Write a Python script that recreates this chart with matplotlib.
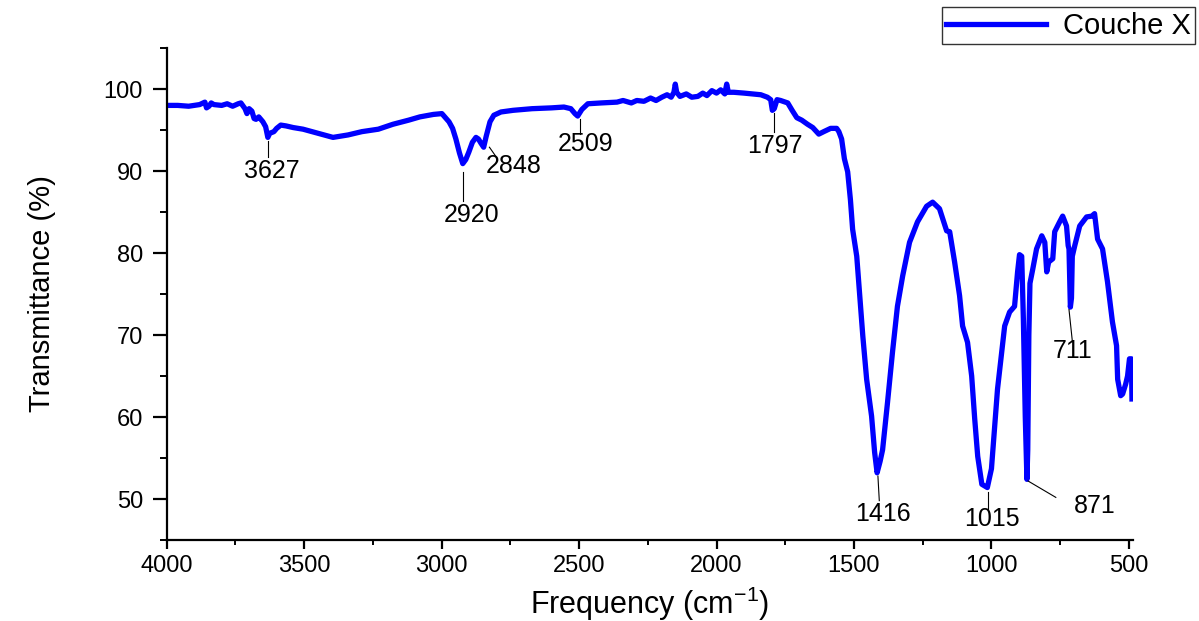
import matplotlib
matplotlib.use("Agg")
from matplotlib import pyplot as plt
from matplotlib.ticker import MultipleLocator

plt.rcParams['font.family'] = ['Liberation Sans', 'DejaVu Sans']
plt.rcParams['mathtext.fontset'] = 'custom'
plt.rcParams['mathtext.rm'] = 'Liberation Sans'
plt.rcParams['mathtext.default'] = 'regular'

# FTIR spectrum, wavenumber (cm-1) and transmittance (%)
wavenumber = [4000, 3960, 3920, 3880, 3861, 3855, 3846, 3838, 3828, 3800, 3780, 3760,
              3740, 3730, 3715, 3708, 3700, 3690, 3682, 3675, 3665, 3650, 3640, 3632,
              3625, 3610, 3600, 3585, 3566, 3540, 3504, 3450, 3395, 3340, 3290, 3230,
              3177, 3120, 3079, 3030, 2999, 2973, 2960, 2948, 2935, 2923, 2912, 2901,
              2888, 2875, 2866, 2857, 2847, 2838, 2824, 2810, 2784, 2740, 2671, 2600,
              2555, 2530, 2515, 2505, 2490, 2468, 2420, 2362, 2340, 2310, 2290, 2264,
              2240, 2220, 2199, 2180, 2165, 2155, 2150, 2145, 2133, 2110, 2090, 2068,
              2050, 2035, 2017, 2000, 1985, 1970, 1963, 1957, 1937, 1900, 1870, 1839,
              1815, 1803, 1797, 1790, 1780, 1767, 1741, 1725, 1708, 1690, 1669, 1650,
              1628, 1610, 1585, 1563, 1555, 1545, 1535, 1523, 1513, 1505, 1490, 1479,
              1468, 1454, 1436, 1425, 1416, 1405, 1396, 1378, 1360, 1342, 1323, 1298,
              1269, 1236, 1214, 1189, 1163, 1152, 1134, 1116, 1105, 1087, 1072, 1061,
              1050, 1035, 1015, 1000, 989, 978, 963, 952, 934, 916, 905, 898,
              890, 884, 877, 871, 868, 864, 860, 850, 836, 817, 806, 799,
              792, 777, 770, 752, 741, 735, 727, 721, 718, 713, 709, 706,
              697, 679, 654, 635, 625, 614, 596, 578, 560, 545, 541, 530,
              523, 512, 505, 498, 491, 489]
transmittance = [98.0, 98.0, 97.9, 98.1, 98.4, 97.7, 97.9, 98.3, 98.1, 98.0, 98.2, 97.9,
                 98.2, 98.3, 97.6, 97.0, 97.6, 97.3, 96.4, 96.3, 96.6, 96.0, 95.4, 94.1,
                 94.6, 94.8, 95.2, 95.6, 95.5, 95.3, 95.1, 94.6, 94.1, 94.4, 94.8, 95.1,
                 95.7, 96.2, 96.6, 96.9, 97.0, 96.0, 95.2, 93.9, 92.2, 90.9, 91.4, 92.3,
                 93.5, 94.1, 93.9, 93.4, 92.9, 94.2, 96.0, 96.8, 97.2, 97.4, 97.6, 97.7,
                 97.8, 97.6, 97.0, 96.7, 97.5, 98.2, 98.3, 98.4, 98.6, 98.3, 98.6, 98.5,
                 98.9, 98.6, 99.0, 99.3, 99.0, 99.6, 100.6, 99.6, 99.1, 99.4, 99.0, 99.1,
                 99.5, 99.2, 99.8, 99.5, 99.9, 99.4, 100.6, 99.6, 99.6, 99.5, 99.4, 99.3,
                 99.0, 98.7, 97.4, 97.6, 98.7, 98.6, 98.3, 97.4, 96.5, 96.2, 95.7, 95.3,
                 94.5, 94.8, 95.2, 95.2, 94.8, 93.9, 91.5, 89.9, 86.5, 82.9, 79.6, 74.8,
                 69.9, 64.6, 60.1, 55.7, 53.2, 54.6, 56.0, 61.8, 67.9, 73.5, 77.2, 81.3,
                 83.8, 85.7, 86.2, 85.4, 82.7, 82.6, 78.9, 74.8, 71.1, 69.1, 65.0, 59.8,
                 55.2, 51.8, 51.4, 53.7, 58.5, 63.4, 67.9, 71.1, 72.8, 73.5, 77.7, 79.8,
                 79.6, 72.0, 60.0, 52.4, 56.0, 70.0, 76.3, 78.0, 80.5, 82.1, 81.3, 77.7,
                 78.9, 79.3, 82.6, 83.8, 84.5, 84.0, 83.3, 80.9, 80.5, 73.4, 74.5, 79.6,
                 80.9, 83.3, 84.4, 84.5, 84.8, 81.7, 80.5, 76.5, 71.6, 68.7, 64.6, 62.6,
                 62.8, 64.0, 65.0, 67.1, 67.1, 62.2]

# peak labels
peaks = ['3627', '2920', '2848', '2509', '1797', '1416', '1015', '871', '711']
# leader line (x0, y0, x1, y1) and label centre for each peak
leaders = [(3632, 93.6, 3632, 91.7), (2923, 89.9, 2923, 86.3), (2826, 92.9, 2803, 91.8),
           (2497, 96.4, 2497, 94.5), (1790, 97.1, 1790, 94.8), (1413, 52.8, 1408, 49.8),
           (1013, 50.9, 1013, 48.8), (867, 52.2, 766, 50.2), (718, 73.1, 706, 69.3)]
label_pos = [(3616, 90.0), (2891, 84.6), (2737, 90.6), (2475, 93.3), (1788, 93.0),
             (1395, 48.2), (999, 47.6), (624, 49.1), (706, 68.0)]

fig = plt.figure(figsize=(11.99, 6.21), dpi=100)
ax = fig.add_axes([0.139, 0.1304, 0.806, 0.7923])

ax.plot(wavenumber, transmittance, color='#0000ff', lw=3.8, solid_joinstyle='round',
        label='Couche X')

for lab, (x0, y0, x1, y1), (tx, ty) in zip(peaks, leaders, label_pos):
    ax.plot([x0, x1], [y0, y1], color='black', lw=0.8)
    ax.text(tx, ty, lab, ha='center', va='center', fontsize=18)

ax.set_xlim(4000, 485)
ax.set_ylim(45, 105)
ax.xaxis.set_major_locator(MultipleLocator(500))
ax.xaxis.set_minor_locator(MultipleLocator(250))
ax.yaxis.set_major_locator(MultipleLocator(10))
ax.yaxis.set_minor_locator(MultipleLocator(5))
ax.set_yticks([50, 60, 70, 80, 90, 100])

for s in ['top', 'right']:
    ax.spines[s].set_visible(False)
for s in ['left', 'bottom']:
    ax.spines[s].set_linewidth(1.6)

ax.tick_params(axis='x', which='major', direction='out', length=6.5, width=1.6,
               labelsize=17, pad=4)
ax.tick_params(axis='x', which='minor', direction='out', length=3.5, width=1.4)
ax.tick_params(axis='y', which='major', direction='out', length=10, width=1.6,
               labelsize=17, pad=7)
ax.tick_params(axis='y', which='minor', direction='out', length=5, width=1.4)

ax.set_xlabel('Frequency (cm$^{-1}$)', fontsize=22, labelpad=6)
ax.set_ylabel('Transmittance (%)', fontsize=21, labelpad=34)

leg = fig.legend(loc='upper right', bbox_to_anchor=(0.997, 0.988), fontsize=21,
                 frameon=True, fancybox=False, edgecolor='black', handlelength=3.4,
                 borderpad=0.15, handletextpad=0.6, borderaxespad=0)
leg.get_frame().set_linewidth(1.0)

fig.savefig('out.png', dpi=100)
